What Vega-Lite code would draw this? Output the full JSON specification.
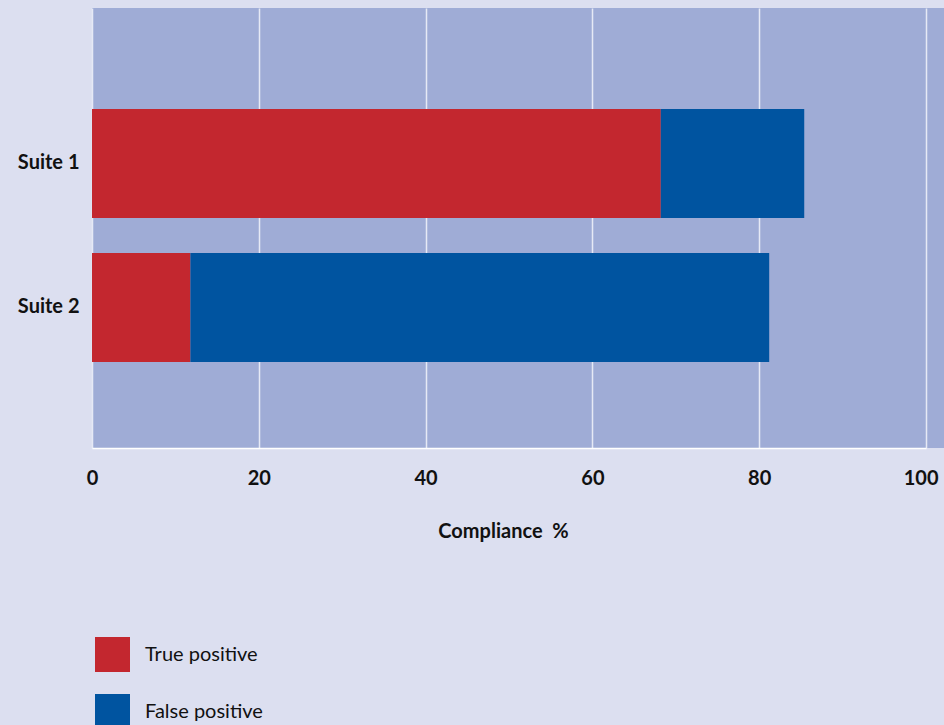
{
  "$schema": "https://vega.github.io/schema/vega-lite/v6.json",
  "autosize": {"type": "none"},
  "padding": {"left": 92, "top": 8, "right": 0, "bottom": 277},
  "width": 852,
  "height": 440,
  "background": "#dcdff0",
  "config": {
    "font": "Lato",
    "view": {"fill": "#9facd6", "stroke": null},
    "axis": {"labelColor": "#111111", "titleColor": "#111111"}
  },
  "data": {
    "values": [
      {"suite": "Suite 1", "result": "True positive", "pct": 68.2},
      {"suite": "Suite 1", "result": "False positive", "pct": 17.2},
      {"suite": "Suite 2", "result": "True positive", "pct": 11.8},
      {"suite": "Suite 2", "result": "False positive", "pct": 69.4}
    ]
  },
  "mark": {"type": "bar", "stroke": null},
  "encoding": {
    "y": {
      "field": "suite",
      "type": "nominal",
      "sort": ["Suite 1", "Suite 2"],
      "scale": {"paddingInner": 0.243, "paddingOuter": 0.649, "align": 0.54},
      "axis": {
        "title": null,
        "domain": false,
        "ticks": false,
        "labelPadding": 13,
        "labelFontSize": 20,
        "labelFontWeight": "bold"
      }
    },
    "x": {
      "field": "pct",
      "type": "quantitative",
      "stack": "zero",
      "scale": {"domain": [0, 100], "range": [0, 834], "nice": false},
      "axis": {
        "title": "Compliance \u00a0%",
        "titleFontSize": 20,
        "titleFontWeight": "bold",
        "titlePadding": 33,
        "titleX": 411,
        "values": [0, 20, 40, 60, 80, 100],
        "ticks": false,
        "labelFlush": false,
        "labelAlign": {"expr": "datum.value == 100 ? 'right' : 'center'"},
        "labelOffset": {"expr": "datum.value == 100 ? 12 : 0"},
        "labelPadding": 20,
        "labelFontSize": 20,
        "labelFontWeight": "bold",
        "domainColor": "#ffffff",
        "domainWidth": 1.5,
        "grid": true,
        "gridColor": "#e6e9f5",
        "gridWidth": 1.5
      }
    },
    "order": {"field": "result", "sort": "descending"},
    "color": {
      "field": "result",
      "type": "nominal",
      "scale": {
        "domain": ["True positive", "False positive"],
        "range": ["#c3272f", "#0054a0"]
      },
      "legend": {
        "title": null,
        "orient": "none",
        "legendX": 3,
        "legendY": 629,
        "padding": 0,
        "symbolType": "square",
        "symbolSize": 1225,
        "symbolStrokeWidth": 0,
        "symbolOpacity": 1,
        "rowPadding": 22,
        "labelOffset": 15,
        "labelFontSize": 20,
        "labelColor": "#111111"
      }
    }
  }
}
